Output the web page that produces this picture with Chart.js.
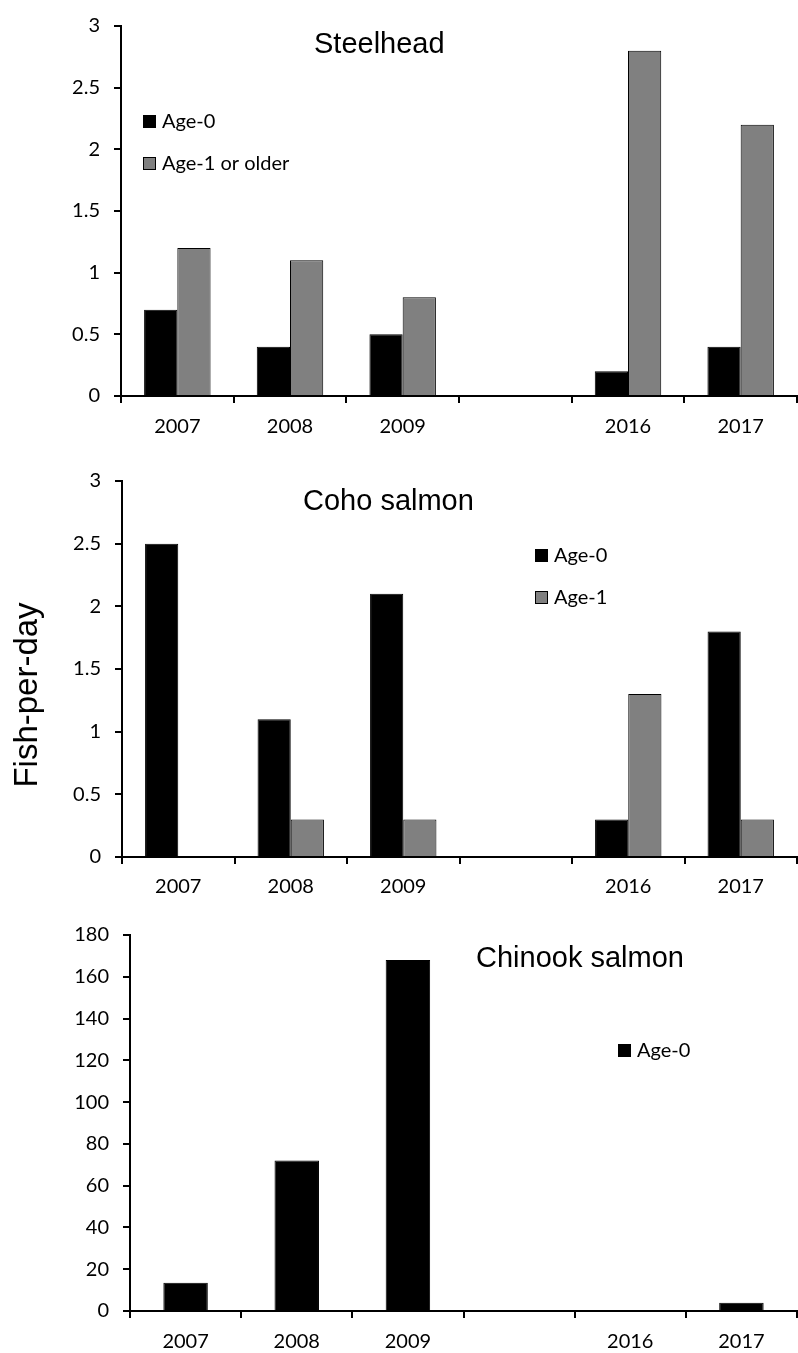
<!DOCTYPE html>
<html>
<head>
<meta charset="utf-8">
<script src="https://cdn.jsdelivr.net/npm/chart.js@4.4.1/dist/chart.umd.min.js"></script>
<style>
  html, body { margin: 0; padding: 0; background: #fff; }
  #wrap { position: relative; width: 798px; height: 1353px; }
  .panel { position: absolute; left: 0; width: 798px; }
  canvas { display: block; }
</style>
</head>
<body>
<div id="wrap">
  <div class="panel" style="top:0"><canvas id="steelChart" width="798" height="450"></canvas></div>
  <div class="panel" style="top:450px"><canvas id="cohoChart" width="798" height="450"></canvas></div>
  <div class="panel" style="top:900px"><canvas id="chinookChart" width="798" height="453"></canvas></div>
</div>
<script>
// data (blank slot between 2009 and 2016)
const years = ['2007', '2008', '2009', '', '2016', '2017'];

const steelAge0 = [0.7, 0.4, 0.5, null, 0.2, 0.4];
const steelAge1 = [1.2, 1.1, 0.8, null, 2.8, 2.2];

const cohoAge0 = [2.5, 1.1, 2.1, null, 0.3, 1.8];
const cohoAge1 = [0, 0.3, 0.3, null, 1.3, 0.3];

const chinookAge0 = [13.5, 72, 168, null, 0, 4];

const BLACK = '#000000';
const GRAY = '#808080';
const TICK_FONT = { family: 'Lato, "Open Sans", sans-serif', size: 20 };

// draws the panel title, the small legend and (optionally) the shared y title
const decorPlugin = {
    id: 'decor',
    afterDraw(chart, args, opts) {
        const ctx = chart.ctx;
        ctx.save();
        ctx.fillStyle = '#000';
        ctx.font = '29px "Liberation Sans", Arial, sans-serif';
        ctx.textAlign = 'left';
        ctx.textBaseline = 'alphabetic';
        ctx.fillText(opts.title, opts.titleX, opts.titleY);

        ctx.font = '20px Lato, "Open Sans", sans-serif';
        ctx.textBaseline = 'middle';
        chart.data.datasets.forEach((ds, i) => {
            const bx = opts.legendX;
            const by = opts.legendY + i * opts.legendGap;
            ctx.fillStyle = ds.backgroundColor;
            ctx.fillRect(bx, by, 13, 13);
            ctx.strokeStyle = '#000';
            ctx.lineWidth = 1;
            ctx.strokeRect(bx + 0.5, by + 0.5, 12, 12);
            ctx.fillStyle = '#000';
            ctx.fillText(ds.label, bx + 19, by + 7);
        });

        if (opts.yTitle) {
            ctx.translate(opts.yTitleX, opts.yTitleY);
            ctx.rotate(-Math.PI / 2);
            ctx.font = '33px "Liberation Sans", Arial, sans-serif';
            ctx.textAlign = 'center';
            ctx.textBaseline = 'alphabetic';
            ctx.fillText(opts.yTitle, 0, 0);
        }
        ctx.restore();
    }
};

function makePanel(id, datasets, cfg) {
    const canvas = document.getElementById(id);
    return new Chart(canvas.getContext('2d'), {
        type: 'bar',
        data: {
            labels: years,
            datasets: datasets.map(d => ({
                label: d.label,
                data: d.data,
                backgroundColor: d.color,
                borderColor: BLACK,
                borderWidth: 1,
                categoryPercentage: cfg.catPct,
                barPercentage: 1
            }))
        },
        options: {
            responsive: false,
            animation: false,
            devicePixelRatio: 1,
            layout: { padding: { top: cfg.top, right: 1, left: 0, bottom: 0 } },
            plugins: {
                legend: { display: false },
                tooltip: { enabled: false },
                decor: cfg.decor
            },
            scales: {
                x: {
                    grid: { offset: true, drawOnChartArea: false, drawTicks: true, tickLength: 7, color: BLACK, lineWidth: 2 },
                    border: { display: true, color: BLACK, width: 2 },
                    ticks: { color: BLACK, font: TICK_FONT, padding: cfg.xPad, maxRotation: 0, autoSkip: false },
                    afterFit: s => { s.height = cfg.xHeight; }
                },
                y: {
                    min: 0,
                    max: cfg.yMax,
                    grid: { drawOnChartArea: false, drawTicks: true, tickLength: 7, color: BLACK, lineWidth: 2 },
                    border: { display: true, color: BLACK, width: 2 },
                    ticks: {
                        stepSize: cfg.yStep,
                        color: BLACK,
                        font: TICK_FONT,
                        padding: 14,
                        callback: v => String(v)
                    },
                    afterFit: s => { s.width = cfg.yWidth; }
                }
            }
        },
        plugins: [decorPlugin]
    });
}

makePanel('steelChart', [
    { label: 'Age-0', data: steelAge0, color: BLACK },
    { label: 'Age-1 or older', data: steelAge1, color: GRAY }
], {
    catPct: 0.59, top: 20, xHeight: 54, xPad: 12, yMax: 3, yStep: 0.5, yWidth: 121,
    decor: { title: 'Steelhead', titleX: 314, titleY: 53, legendX: 143, legendY: 115, legendGap: 42 }
});

makePanel('cohoChart', [
    { label: 'Age-0', data: cohoAge0, color: BLACK },
    { label: 'Age-1', data: cohoAge1, color: GRAY }
], {
    catPct: 0.59, top: 31, xHeight: 43, xPad: 11, yMax: 3, yStep: 0.5, yWidth: 122,
    decor: {
        title: 'Coho salmon', titleX: 303, titleY: 60, legendX: 535, legendY: 99, legendGap: 42,
        yTitle: 'Fish-per-day', yTitleX: 37, yTitleY: 245
    }
});

makePanel('chinookChart', [
    { label: 'Age-0', data: chinookAge0, color: BLACK }
], {
    catPct: 0.4, top: 35, xHeight: 42, xPad: 12, yMax: 180, yStep: 20, yWidth: 130,
    decor: { title: 'Chinook salmon', titleX: 476, titleY: 67, legendX: 618, legendY: 144, legendGap: 42 }
});
</script>
</body>
</html>
